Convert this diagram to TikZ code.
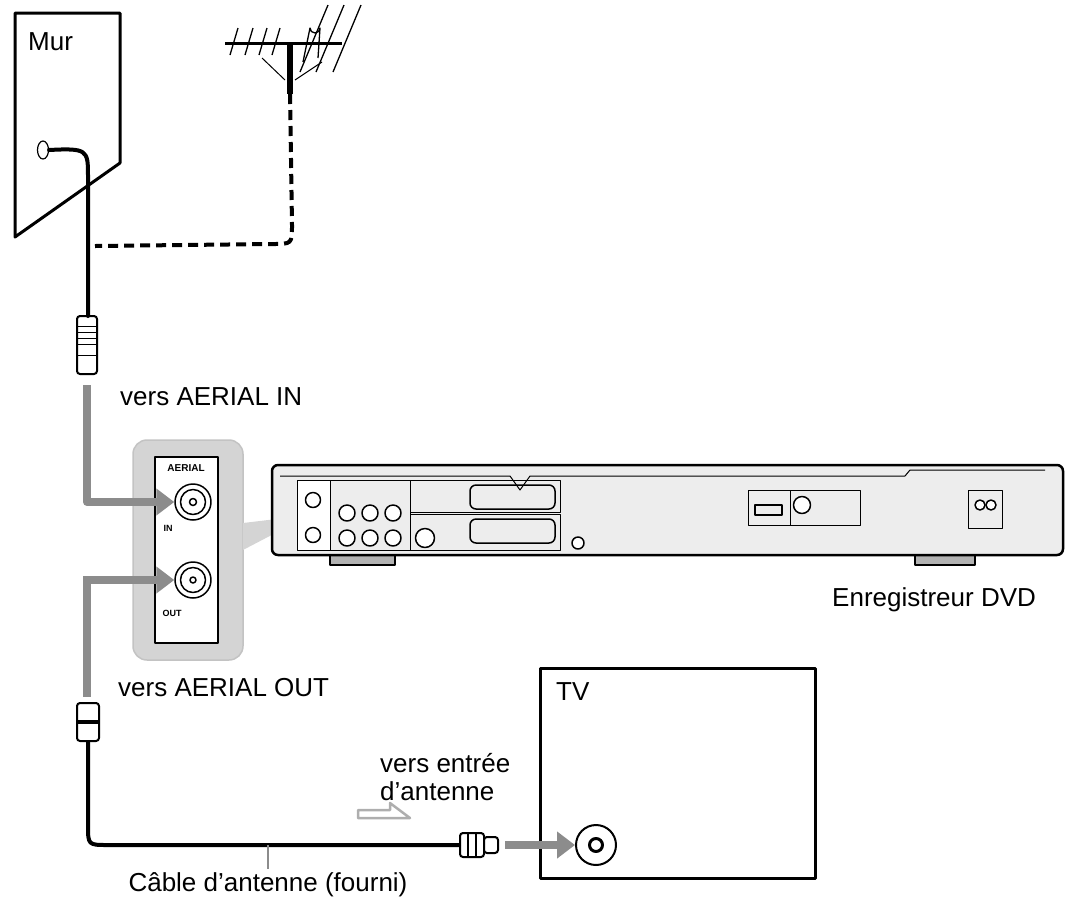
\documentclass[tikz,border=0pt]{standalone}
\usepackage{fontspec}
\setmainfont{Liberation Sans}
\usetikzlibrary{arrows.meta,positioning,shapes.geometric}
\definecolor{arrowgray}{HTML}{8C8C8C}
\definecolor{boxgray}{HTML}{D4D4D4}
\definecolor{dvdgray}{HTML}{EDEDED}
\begin{document}
\begin{tikzpicture}[
    x=1pt, y=-1pt,
    line join=round,
    every node/.style={font=\fontsize{26}{31}\selectfont},
    txt/.style={inner sep=0pt, anchor=west},
    jack/.style={draw, circle, line width=1.5pt, fill=white, minimum size=#1, inner sep=0pt},
    jack/.default=30pt,
    cable/.style={line width=4pt, line cap=round},
    feed/.style={arrowgray, line width=8pt, -{Triangle[length=18pt,width=26pt]}},
    plug/.style={draw, line width=2pt, fill=white, rounded corners=3pt}]
    \useasboundingbox (0,0) rectangle (1070,906);

    % wall and socket
    \draw[line width=3pt] (15,13) -- (120,13) -- (120,163) -- (15,237) -- cycle;
    \node[txt] (mur) at (28,42) {Mur};
    \node[draw, ellipse, line width=1.2pt, minimum width=11pt, minimum height=18pt, inner sep=0pt] (sock) at (43,150) {};

    % aerial
    \draw[line width=3pt] (225,43) -- (342,43);
    \coordinate (mast) at (290,94);
    \draw[line width=6pt] (290,43) -- (mast);
    \foreach \x in {230,245,259,272} \draw[line width=1.3pt] (\x,55) -- (\x+8,28);
    \foreach \x in {300,316,333} \draw[line width=1.3pt] (\x,72) -- (\x+28,5);
    \draw[line width=1.3pt] (303,62) -- (310,28) arc (180:0:5) -- (318,58);
    \draw[line width=1pt] (285,80) -- (262,58) (295,80) -- (322,62);

    % wall cable
    \node[plug, minimum width=20pt, minimum height=58pt] (wplug) at (87,345) {};
    \foreach \y in {326,332,338,344} \draw[line width=1pt] (78,\y) -- (96,\y);
    \draw[line width=1pt] (77,355) -- (97,355);
    \coordinate (tee) at (95,246);
    \draw[cable] (sock.east) .. controls (87,148) and (88,150) .. (88,175) -- (88,316);
    \draw[line width=4pt, dash pattern=on 10pt off 6pt] (mast) -- (292,225) .. controls (292,244) .. (272,244) -- (tee);

    % aerial panel
    \draw[boxgray!80!gray, fill=boxgray, line width=1.5pt, rounded corners=14pt] (133,440) rectangle (243,660);
    \draw[fill=white, line width=1.2pt] (155,457) rectangle (218,643);
    \node[font=\bfseries\fontsize{10}{11}\selectfont] (aerial) at (186,468) {AERIAL};
    \node[jack=36pt] (in) at (193,502) {};
    \node[jack=25pt] at (in) {};
    \node[jack=7pt] at (in) {};
    \node[jack=36pt] (out) at (193,580) {};
    \node[jack=25pt] at (out) {};
    \node[jack=6pt] at (out) {};
    \node[font=\bfseries\fontsize{9}{10}\selectfont] at (168,528) {IN};
    \node[font=\bfseries\fontsize{9}{10}\selectfont] at (172,613) {OUT};
    \fill[boxgray] (243,523) -- (285,518) -- (285,528) -- (243,550) -- cycle;

    % DVD recorder
    \draw[line width=1.5pt, fill=gray!60] (330,555) rectangle (395,565);
    \draw[line width=1.5pt, fill=gray!60] (915,555) rectangle (975,565);
    \draw[line width=2.5pt, fill=dvdgray, rounded corners=6pt] (272,465) rectangle (1063,555);
    \draw[line width=1pt] (280,476) -- (510,476) -- (520,490) -- (530,476) -- (905,476) -- (910,470) -- (1045,470);
    \draw[fill=white, line width=1pt] (297,480) rectangle (330,550);
    \draw[line width=1pt] (330,480) rectangle (410,550) (410,480) rectangle (560,512) (410,514) rectangle (560,550);
    \foreach \y in {500,535} \node[jack=15pt] at (313,\y) {};
    \foreach \x in {347,370,393} {
        \node[jack=16pt] at (\x,513) {};
        \node[jack=16pt] at (\x,538) {};
    }
    \node[jack=19pt] at (425,538) {};
    \foreach \y in {497,531} \draw[line width=1.5pt, rounded corners=6pt] (470,\y-12) rectangle (555,\y+12);
    \node[jack=12pt] at (578,543) {};
    \draw[line width=1pt] (748,490) rectangle (790,525) (790,490) rectangle (860,525);
    \draw[line width=1.5pt] (755,505) rectangle (782,515);
    \node[jack=17pt] at (802,505) {};
    \draw[line width=1pt] (968,490) rectangle (1002,528);
    \node[jack=10pt] at (980,505) {};
    \node[jack=10pt] at (991,505) {};
    \node[txt] (dvd) at (832,600) {Enregistreur DVD};

    % feed arrows
    \node[txt] (toin) at (120,397) {vers AERIAL IN};
    \node[txt] (toout) at (118,688) {vers AERIAL OUT};
    \draw[feed] (87,385) |- (in.west);
    \draw[arrowgray, line width=8pt] (87,580) -- (87,697);
    \draw[feed] (83,580) -- (out.west);

    % TV
    \draw[line width=3pt] (540,668) rectangle (815,878);
    \node[txt] (tv) at (556,692) {TV};
    \node[jack=40pt, line width=2pt] (tvin) at (596,845) {};
    \node[jack=13pt, line width=3pt] at (tvin) {};
    \node[txt] (toant) at (380,763) {vers entrée};
    \node[txt] (toant2) at (380,791) {d’antenne};

    % output cable
    \node[plug, minimum width=22pt, minimum height=38pt] (oplug) at (88,722) {};
    \draw[line width=4pt] (77,722) -- (99,722);
    \node[plug, minimum width=24pt, minimum height=24pt] (tplug) at (472,845) {};
    \node[plug, minimum width=14pt, minimum height=16pt, right=-2pt of tplug] (tplug2) {};
    \draw[line width=1.5pt] (468,833) -- (468,857) (476,833) -- (476,857);
    \draw[cable] (oplug.south) -- (88,825) .. controls (88,845) .. (108,845) -- (tplug.west);
    \draw[feed] (tplug2.east) ++(6,0) -- (tvin.west);
    \draw[arrowgray!70, line width=2.5pt] (358,810) -- (390,810) -- (390,803) -- (410,818) -- (358,818) -- cycle;
    \coordinate (tick) at (268,845);
    \node (cable) at (268,885) {Câble d’antenne (fourni)};
    \draw[arrowgray, line width=2pt] (tick) -- (cable.north);
\end{tikzpicture}
\end{document}
